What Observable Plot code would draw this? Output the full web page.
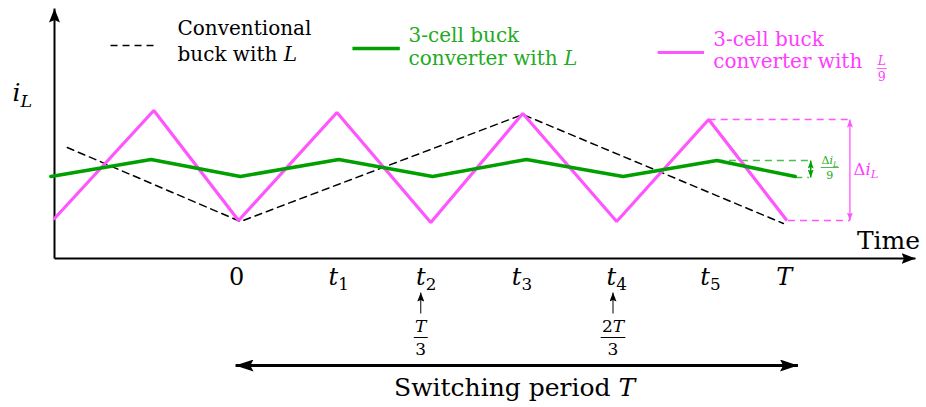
<!DOCTYPE html>
<html>
<head>
<meta charset="utf-8">
<script src="https://cdn.jsdelivr.net/npm/d3@7"></script>
<script src="https://cdn.jsdelivr.net/npm/@observablehq/plot@0.6"></script>
<style>
  html, body { margin: 0; padding: 0; background: #fff; }
</style>
</head>
<body>
<div id="chart"></div>
<script>
// Time is measured in units of T/6 (t = 0 at the start of the switching period);
// inductor current i_L is in arbitrary units.

// Conventional buck with L
const convTime = [-1.86, 0.04, 3.14, 6.0];
const convCurrent = [11.1, 3.7, 14.4, 3.5];

// 3-cell buck converter with L
const cellTime = [-2.04, -0.94, 0.04, 1.12, 2.15, 3.18, 4.24, 5.27, 6.13];
const cellCurrent = [8.2, 9.9, 8.2, 9.9, 8.2, 9.9, 8.2, 9.8, 8.2];

// 3-cell buck converter with L/9
const smallTime = [-2.0, -0.91, 0.02, 1.1, 2.13, 3.14, 4.17, 5.18, 6.03];
const smallCurrent = [4.0, 14.8, 3.8, 14.6, 3.6, 14.5, 3.7, 13.9, 3.9];

// Time axis labels
const tickTimes = [0, 1.12, 2.08, 3.13, 4.17, 5.2, 6.01];
const tickLabels = ["0", "$t_1$", "$t_2$", "$t_3$", "$t_4$", "$t_5$", "$T$"];

// Phase-shift markers below the axis
const markTimes = [2.02, 4.13];
const markLabels = ["\\frac{$T$}{3}", "\\frac{2$T$}{3}"];

// Legend text, one entry per series
const legendLines = [
  ["Conventional", "buck with $L$"],
  ["3-cell buck", "converter with $L$"],
  ["3-cell buck", "converter with"]
];

// Ripple annotations
const rippleLabels = ["Δ$i_L$", "\\frac{Δ$i_L$}{9}"];

// ---------------------------------------------------------------------------
// Layout (all in data units: time, current)
const X = [-2, 7.45];
const Y = [0, 25];
const ink = {
  conv: "#000000",
  cell: "#00a000",
  small: "#ff55ff",
  cellText: "#22aa22",
  smallText: "#ff3cff"
};
const legendPos = [
  {x1: -1.385, x2: -0.869, y: 21.3, tx: -0.65, ty: [22.4, 19.8]},
  {x1: 1.27, x2: 1.79, y: 21.0, tx: 1.886, ty: [21.7, 19.4]},
  {x1: 4.62, x2: 5.13, y: 20.6, tx: 5.23, ty: [21.3, 19.1]}
];

const pts = (T, I) => T.map((t, k) => ({t, v: I[k]}));
const svgNS = "http://www.w3.org/2000/svg";

// Filled triangular arrow head (len along the line, wid across it)
function head(len, wid) {
  return (color, context) => {
    const doc = (context && context.document) || document;
    const m = doc.createElementNS(svgNS, "marker");
    m.setAttribute("viewBox", `0 ${-wid / 2} ${len} ${wid}`);
    m.setAttribute("markerUnits", "userSpaceOnUse");
    m.setAttribute("markerWidth", len);
    m.setAttribute("markerHeight", wid);
    m.setAttribute("refX", len);
    m.setAttribute("refY", 0);
    m.setAttribute("orient", "auto-start-reverse");
    const p = doc.createElementNS(svgNS, "path");
    p.setAttribute("d", `M0,${-wid / 2}L${len},0L0,${wid / 2}L${len * 0.18},0Z`);
    p.setAttribute("fill", color);
    p.setAttribute("stroke", "none");
    m.appendChild(p);
    return m;
  };
}

const axes = [
  {x1: X[0], y1: Y[0], x2: X[1], y2: Y[0]},
  {x1: X[0], y1: Y[0], x2: X[0], y2: Y[1]}
];

const legendText = legendLines.flatMap((lines, k) =>
  lines.map((s, j) => ({s, k, x: legendPos[k].tx, y: legendPos[k].ty[j]}))
);
const legendFill = [ink.conv, ink.cellText, ink.smallText];
const swatch = (k, opts) =>
  Plot.link([legendPos[k]], {x1: "x1", x2: "x2", y1: "y", y2: "y", ...opts});

const plot = Plot.plot({
  width: 926,
  height: 407,
  marginLeft: 54,
  marginRight: 11,
  marginTop: 8,
  marginBottom: 149,
  x: {domain: X, axis: null},
  y: {domain: Y, axis: null},
  style: {fontFamily: "'DejaVu Serif', serif", background: "#fff", overflow: "visible"},
  marks: [
    // axes with arrow heads
    Plot.link(axes, {x1: "x1", y1: "y1", x2: "x2", y2: "y2", stroke: "#000", strokeWidth: 2, markerEnd: head(14, 11)}),

    // ripple guides
    Plot.link([{a: 5.18, b: 6.73, v: 13.9}, {a: 6.05, b: 6.73, v: 3.8}],
      {x1: "a", x2: "b", y1: "v", y2: "v", stroke: ink.small, strokeWidth: 1.5, strokeDasharray: "7,5"}),
    Plot.link([{t: 6.73, a: 13.9, b: 3.8}],
      {x1: "t", x2: "t", y1: "a", y2: "b", stroke: ink.small, strokeWidth: 1.3, markerStart: head(8, 6), markerEnd: head(8, 6)}),
    Plot.link([{a: 5.27, b: 6.28, v: 9.8}, {a: 6.13, b: 6.28, v: 8.1}],
      {x1: "a", x2: "b", y1: "v", y2: "v", stroke: ink.cell, strokeOpacity: 0.7, strokeWidth: 1.5, strokeDasharray: "7,5"}),
    Plot.link([{t: 6.30, a: 9.8, b: 8.1}],
      {x1: "t", x2: "t", y1: "a", y2: "b", stroke: ink.cell, strokeWidth: 1.5, markerStart: head(8, 6), markerEnd: head(8, 6)}),

    // waveforms
    Plot.line(pts(convTime, convCurrent), {x: "t", y: "v", stroke: ink.conv, strokeWidth: 1.5, strokeDasharray: "7,5"}),
    Plot.line(pts(smallTime, smallCurrent), {x: "t", y: "v", stroke: ink.small, strokeWidth: 3.2, strokeLinejoin: "miter"}),
    Plot.line(pts(cellTime, cellCurrent), {x: "t", y: "v", stroke: ink.cell, strokeWidth: 3.5, strokeLinejoin: "miter"}),

    // ripple labels
    Plot.text([{t: 6.77, v: 8.4, s: rippleLabels[0]}],
      {x: "t", y: "v", text: "s", textAnchor: "start", lineAnchor: "bottom", fontSize: 16.5, fill: ink.smallText}),
    Plot.text([{t: 6.51, v: 9.1, s: rippleLabels[1]}],
      {x: "t", y: "v", text: "s", fontSize: 11, fill: ink.cellText}),

    // time axis labels
    Plot.text(tickTimes.map((t, k) => ({t, s: tickLabels[k]})),
      {x: "t", y: () => -2.6, text: "s", lineAnchor: "bottom", fontSize: 24, fill: "#000"}),

    // T/3 and 2T/3 markers
    Plot.link(markTimes.map(t => ({t})),
      {x1: "t", x2: "t", y1: () => -5.5, y2: () => -3.4, stroke: "#000", strokeWidth: 1, markerEnd: head(9, 7)}),
    Plot.text(markTimes.map((t, k) => ({t, s: markLabels[k]})),
      {x: "t", y: () => -7.9, text: "s", fontSize: 17, fill: "#000"}),

    // switching period
    Plot.link([{a: -0.013, b: 6.16, v: -10.7}],
      {x1: "a", x2: "b", y1: "v", y2: "v", stroke: "#000", strokeWidth: 3, markerStart: head(18, 12), markerEnd: head(18, 12)}),
    Plot.text([{t: 3.05, v: -13.7, s: "Switching period $T$"}],
      {x: "t", y: "v", text: "s", lineAnchor: "bottom", fontSize: 25, fill: "#000"}),

    // axis titles
    Plot.text([{t: 7.5, v: 1.0, s: "Time"}],
      {x: "t", y: "v", text: "s", textAnchor: "end", lineAnchor: "bottom", fontSize: 25, fill: "#000"}),
    Plot.text([{t: -2.46, v: 15.8, s: "$i_L$"}],
      {x: "t", y: "v", text: "s", textAnchor: "start", lineAnchor: "bottom", fontSize: 25, fill: "#000"}),

    // legend
    swatch(0, {stroke: ink.conv, strokeWidth: 1.5, strokeDasharray: "7,5"}),
    swatch(1, {stroke: ink.cell, strokeWidth: 3.5}),
    swatch(2, {stroke: ink.small, strokeWidth: 3.2}),
    Plot.text(legendText, {
      x: "x", y: "y", text: "s", textAnchor: "start", lineAnchor: "bottom", fontSize: 20,
      fill: d => legendFill[d.k]
    }),
    Plot.text([{t: 7.08, v: 19.0, s: "\\frac{$L$}{9}"}],
      {x: "t", y: "v", text: "s", fontSize: 12.5, fill: ink.smallText})
  ]
});

document.getElementById("chart").append(plot);

// Typeset the small math markup used in the labels:
//   $...$  italic math,  _x  subscript,  \frac{a}{b}  stacked fraction.
function fillRuns(el, s, fs) {
  const runs = [];
  let italic = false;
  for (let i = 0; i < s.length; i++) {
    const c = s[i];
    if (c === "$") { italic = !italic; continue; }
    if (c === "_") {
      const n = s[++i];
      runs.push({text: n, italic: italic && /[A-Za-z]/.test(n), sub: true});
      continue;
    }
    const last = runs[runs.length - 1];
    const it = italic && /[A-Za-z]/.test(c);
    if (last && !last.sub && last.italic === it) last.text += c;
    else runs.push({text: c, italic: it, sub: false});
  }
  let off = 0;
  for (const r of runs) {
    const ts = document.createElementNS(svgNS, "tspan");
    ts.textContent = r.text;
    if (r.italic) ts.setAttribute("font-style", "italic");
    const target = r.sub ? 0.24 * fs : 0;
    if (target !== off) { ts.setAttribute("dy", target - off); off = target; }
    if (r.sub) ts.setAttribute("font-size", 0.7 * fs);
    el.appendChild(ts);
  }
}

plot.querySelectorAll("text").forEach(t => {
  const s = t.textContent;
  if (!/[$_]|\\frac/.test(s)) return;
  const cs = getComputedStyle(t);
  const fs = parseFloat(cs.fontSize);
  const m = s.match(/^\\frac\{(.*)\}\{(.*)\}$/);
  t.textContent = "";
  if (!m) { fillRuns(t, s, fs); return; }
  fillRuns(t, m[1], fs);
  t.setAttribute("y", "-0.3em");
  const d = t.cloneNode(false);
  fillRuns(d, m[2], fs);
  d.setAttribute("y", "1.0em");
  t.after(d);
  const w = Math.max(t.getComputedTextLength(), d.getComputedTextLength()) + fs * 0.15;
  const anchor = cs.textAnchor;
  const x0 = anchor === "middle" ? -w / 2 : anchor === "end" ? -w : 0;
  const bar = document.createElementNS(svgNS, "line");
  const tr = t.getAttribute("transform");
  if (tr) bar.setAttribute("transform", tr);
  bar.setAttribute("x1", x0);
  bar.setAttribute("x2", x0 + w);
  bar.setAttribute("y1", 0);
  bar.setAttribute("y2", 0);
  bar.setAttribute("stroke", cs.fill);
  bar.setAttribute("stroke-width", Math.max(0.8, fs * 0.06));
  d.after(bar);
});
</script>
</body>
</html>
